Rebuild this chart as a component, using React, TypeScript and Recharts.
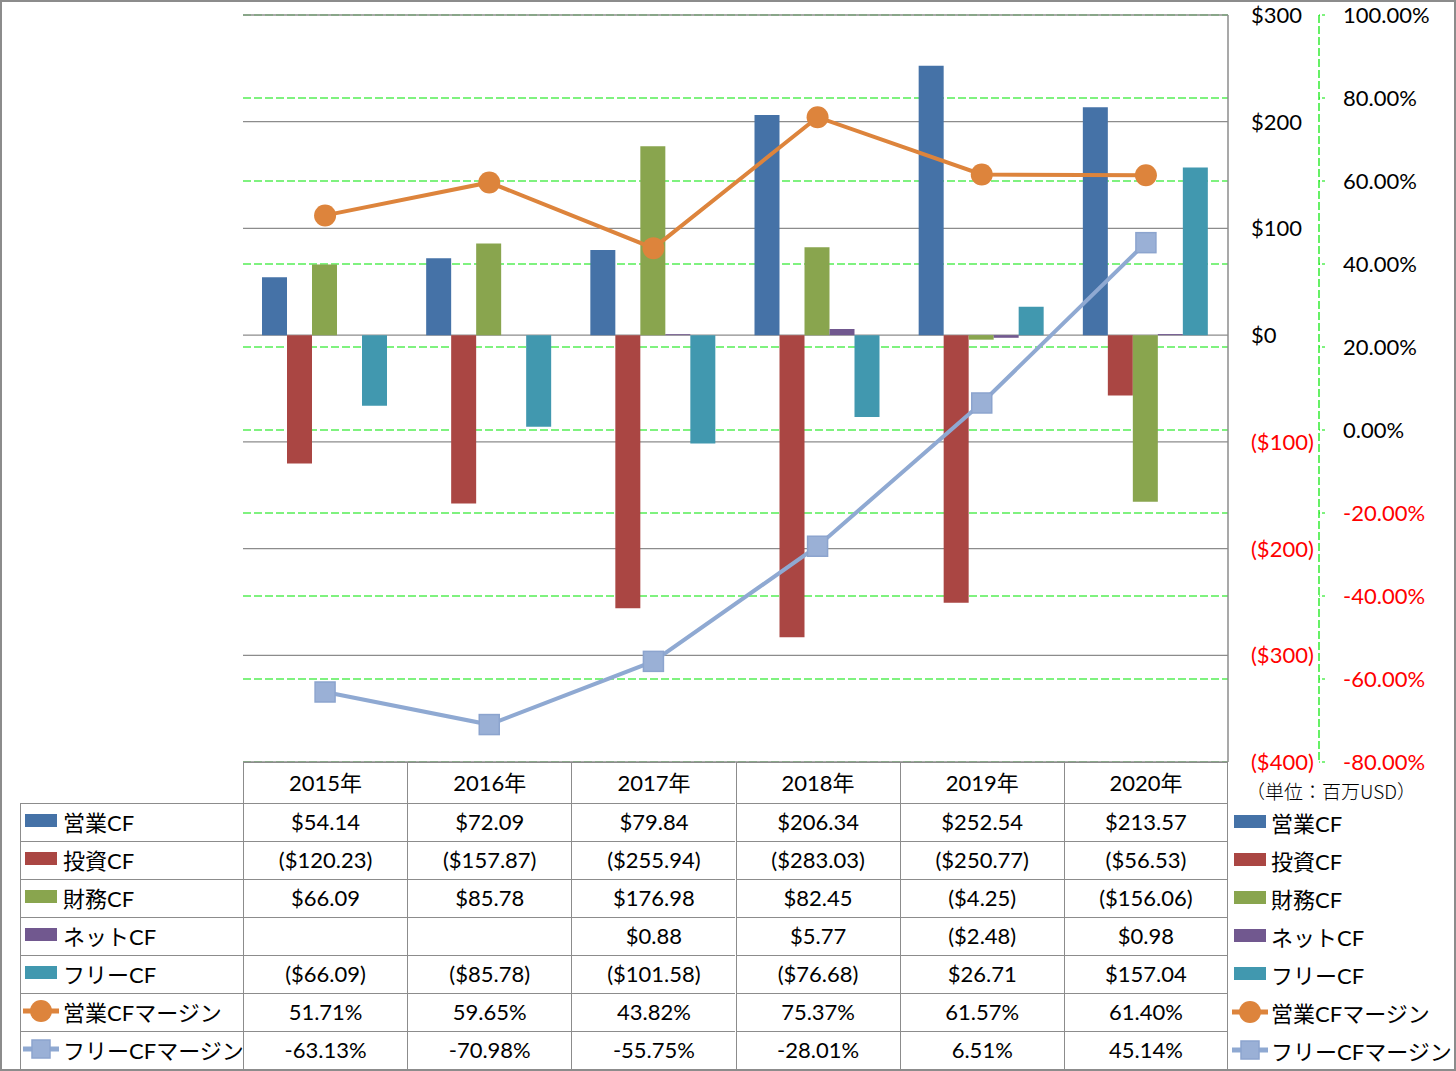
import { ComposedChart, Bar, Line, XAxis, YAxis, CartesianGrid } from 'recharts';

const years = ['2015年', '2016年', '2017年', '2018年', '2019年', '2020年'];
const opCF = [54.14, 72.09, 79.84, 206.34, 252.54, 213.57];
const invCF = [-120.23, -157.87, -255.94, -283.03, -250.77, -56.53];
const finCF = [66.09, 85.78, 176.98, 82.45, -4.25, -156.06];
const netCF = [null, null, 0.88, 5.77, -2.48, 0.98];
const freeCF = [-66.09, -85.78, -101.58, -76.68, 26.71, 157.04];
const opMargin = [51.71, 59.65, 43.82, 75.37, 61.57, 61.4];
const freeMargin = [-63.13, -70.98, -55.75, -28.01, 6.51, 45.14];

const usdTicks = [-400, -300, -200, -100, 0, 100, 200, 300];
const pctTicks = [-80, -60, -40, -20, 0, 20, 40, 60, 80, 100];

const C_OP = '#4572A7';
const C_INV = '#AA4643';
const C_FIN = '#89A54E';
const C_NET = '#71588F';
const C_FREE = '#4198AF';
const C_OPM = '#DD843C';
const C_FREEM = '#8FA9D2';
const GREEN = '#00e600';
const GRID = '#8c8c8c';

const W = 1456;
const H = 1071;
const PLOT_L = 243;
const PLOT_R = 1228;
const PLOT_T = 15;
const PLOT_B = 762;
const FONT = "Lato, 'Noto Sans CJK JP', sans-serif";

const data = years.map((y, i) => ({
  year: y,
  op: opCF[i],
  inv: invCF[i],
  fin: finCF[i],
  net: netCF[i],
  free: freeCF[i],
  opm: opMargin[i],
  freem: freeMargin[i],
}));

const usd = (v: number | null) => {
  if (v === null) return '';
  const s = '$' + Math.abs(v).toFixed(2);
  return v < 0 ? '(' + s + ')' : s;
};
const pct = (v: number) => v.toFixed(2) + '%';

type Row = { name: string; kind: 'bar' | 'circle' | 'square'; color: string; vals: string[] };
const rows: Row[] = [
  { name: '営業CF', kind: 'bar', color: C_OP, vals: opCF.map(usd) },
  { name: '投資CF', kind: 'bar', color: C_INV, vals: invCF.map(usd) },
  { name: '財務CF', kind: 'bar', color: C_FIN, vals: finCF.map(usd) },
  { name: 'ネットCF', kind: 'bar', color: C_NET, vals: netCF.map(usd) },
  { name: 'フリーCF', kind: 'bar', color: C_FREE, vals: freeCF.map(usd) },
  { name: '営業CFマージン', kind: 'circle', color: C_OPM, vals: opMargin.map(pct) },
  { name: 'フリーCFマージン', kind: 'square', color: C_FREEM, vals: freeMargin.map(pct) },
];

const UsdTick = (props: any) => {
  const { y, payload } = props;
  const v = payload.value;
  const label = v < 0 ? '($' + Math.abs(v) + ')' : '$' + v;
  return (
    <text x={PLOT_R + 23} y={y} dy={8} textAnchor="start" fontSize={22} fontFamily={FONT} fill={v < 0 ? '#ff0000' : '#000'}>
      {label}
    </text>
  );
};

const PctTick = (props: any) => {
  const { y, payload } = props;
  const v = payload.value;
  return (
    <text x={1343} y={y} dy={8} textAnchor="start" fontSize={22} fontFamily={FONT} fill={v < 0 ? '#ff0000' : '#000'}>
      {v.toFixed(2) + '%'}
    </text>
  );
};

const CircleDot = (props: any) => {
  const { cx, cy, index } = props;
  if (cx == null || cy == null) return <g key={index} />;
  return <circle key={index} cx={cx} cy={cy} r={11} fill={C_OPM} />;
};

const SquareDot = (props: any) => {
  const { cx, cy, index } = props;
  if (cx == null || cy == null) return <g key={index} />;
  return <rect key={index} x={cx - 10} y={cy - 10} width={20} height={20} fill="#9AB0D6" stroke="#8CA4CE" strokeWidth={1.5} />;
};

const Swatch = ({ kind, color }: { kind: string; color: string }) => {
  if (kind === 'bar') {
    return (
      <svg width={36} height={20} style={{ display: 'block' }}>
        <rect x={2} y={3} width={32} height={13} fill={color} />
      </svg>
    );
  }
  return (
    <svg width={36} height={24} style={{ display: 'block' }}>
      <line x1={0} y1={12} x2={36} y2={12} stroke={color} strokeWidth={5} strokeLinecap="round" />
      {kind === 'circle' ? (
        <circle cx={18} cy={12} r={11} fill={color} />
      ) : (
        <rect x={9} y={3} width={18} height={18} fill="#9AB0D6" stroke="#8CA4CE" strokeWidth={1.5} />
      )}
    </svg>
  );
};

export default function App() {
  const colW = (PLOT_R - PLOT_L) / years.length;
  const headTop = PLOT_B;
  const headH = 41;
  const rowH = 38;
  const bodyTop = headTop + headH;
  const line = '1px solid ' + GRID;

  return (
    <div style={{ position: 'absolute', left: 0, top: 0, width: W, height: H, boxSizing: 'border-box', border: '2px solid ' + GRID, background: '#fff', fontFamily: FONT, overflow: 'hidden' }}>
      <div style={{ position: 'absolute', left: -2, top: -2 }}>
        <ComposedChart
          width={W}
          height={PLOT_B + 40}
          data={data}
          margin={{ top: PLOT_T, left: PLOT_L, right: 0, bottom: 40 }}
          barCategoryGap={19}
          barGap={0}
        >
          <CartesianGrid yAxisId="b" vertical={false} stroke={GREEN} strokeWidth={1.2} strokeDasharray="8 3" />
          <CartesianGrid yAxisId="a" vertical={false} stroke={GRID} strokeWidth={1.3} />
          <XAxis dataKey="year" hide />
          <YAxis
            yAxisId="b"
            orientation="right"
            width={137}
            domain={[-80, 100]}
            ticks={pctTicks}
            allowDataOverflow
            axisLine={{ stroke: GREEN, strokeWidth: 1.2, strokeDasharray: '8 3' }}
            tickLine={{ stroke: GREEN, strokeDasharray: '3 2' }}
            tickSize={6}
            tick={<PctTick />}
            interval={0}
          />
          <YAxis
            yAxisId="a"
            orientation="right"
            width={91}
            domain={[-400, 300]}
            ticks={usdTicks}
            allowDataOverflow
            axisLine={{ stroke: GRID, strokeWidth: 1.5 }}
            tickLine={false}
            tick={<UsdTick />}
            interval={0}
          />
          <Bar yAxisId="a" dataKey="op" fill={C_OP} isAnimationActive={false} />
          <Bar yAxisId="a" dataKey="inv" fill={C_INV} isAnimationActive={false} />
          <Bar yAxisId="a" dataKey="fin" fill={C_FIN} isAnimationActive={false} />
          <Bar yAxisId="a" dataKey="net" fill={C_NET} isAnimationActive={false} />
          <Bar yAxisId="a" dataKey="free" fill={C_FREE} isAnimationActive={false} />
          <Line yAxisId="b" dataKey="opm" stroke={C_OPM} strokeWidth={4} dot={<CircleDot />} activeDot={false} isAnimationActive={false} />
          <Line yAxisId="b" dataKey="freem" stroke={C_FREEM} strokeWidth={4} dot={<SquareDot />} activeDot={false} isAnimationActive={false} />
        </ComposedChart>
      </div>

      {/* data table */}
      <div style={{ position: 'absolute', left: -2, top: -2, width: W, height: H }}>
        {years.map((y, i) => (
          <div
            key={y}
            style={{
              position: 'absolute',
              left: PLOT_L + i * colW,
              top: headTop,
              width: colW,
              height: headH,
              boxSizing: 'border-box',
              borderLeft: line,
              borderTop: line,
              borderRight: i === years.length - 1 ? line : 'none',
              display: 'flex',
              alignItems: 'center',
              justifyContent: 'center',
              paddingBottom: 4,
              fontSize: 22,
              color: '#000',
            }}
          >
            {y}
          </div>
        ))}
        <div style={{ position: 'absolute', left: 1246, top: 777, fontSize: 19, fontFamily: "'Noto Sans CJK JP', sans-serif", fontWeight: 300, color: '#000', whiteSpace: 'nowrap' }}>
          （単位：百万USD）
        </div>
        {rows.map((r, ri) => {
          const top = bodyTop + ri * rowH;
          return (
            <div key={r.name}>
              <div
                style={{
                  position: 'absolute',
                  left: 20,
                  top,
                  width: PLOT_L - 20,
                  height: rowH,
                  boxSizing: 'border-box',
                  borderLeft: line,
                  borderTop: line,
                  display: 'flex',
                  alignItems: 'center',
                  paddingBottom: 3,
                  fontSize: 22,
                  whiteSpace: 'nowrap',
                }}
              >
                <div style={{ marginLeft: 2, marginRight: 4 }}>
                  <Swatch kind={r.kind} color={r.color} />
                </div>
                <span>{r.name}</span>
              </div>
              {r.vals.map((v, ci) => (
                <div
                  key={ci}
                  style={{
                    position: 'absolute',
                    left: PLOT_L + ci * colW,
                    top,
                    width: colW,
                    height: rowH,
                    boxSizing: 'border-box',
                    borderLeft: line,
                    borderTop: line,
                    borderRight: ci === years.length - 1 ? line : 'none',
                    display: 'flex',
                    alignItems: 'center',
                    justifyContent: 'center',
                    paddingBottom: 3,
                    fontSize: 22,
                  }}
                >
                  {v}
                </div>
              ))}
              <div
                style={{
                  position: 'absolute',
                  left: PLOT_R + 4,
                  top,
                  height: rowH,
                  display: 'flex',
                  alignItems: 'center',
                  paddingBottom: 3,
                  fontSize: 22,
                  whiteSpace: 'nowrap',
                }}
              >
                <div style={{ marginRight: 3 }}>
                  <Swatch kind={r.kind} color={r.color} />
                </div>
                <span>{r.name}</span>
              </div>
            </div>
          );
        })}
        <div style={{ position: 'absolute', left: 20, top: bodyTop + rows.length * rowH, width: PLOT_R - 20, borderTop: line }} />
      </div>
    </div>
  );
}
